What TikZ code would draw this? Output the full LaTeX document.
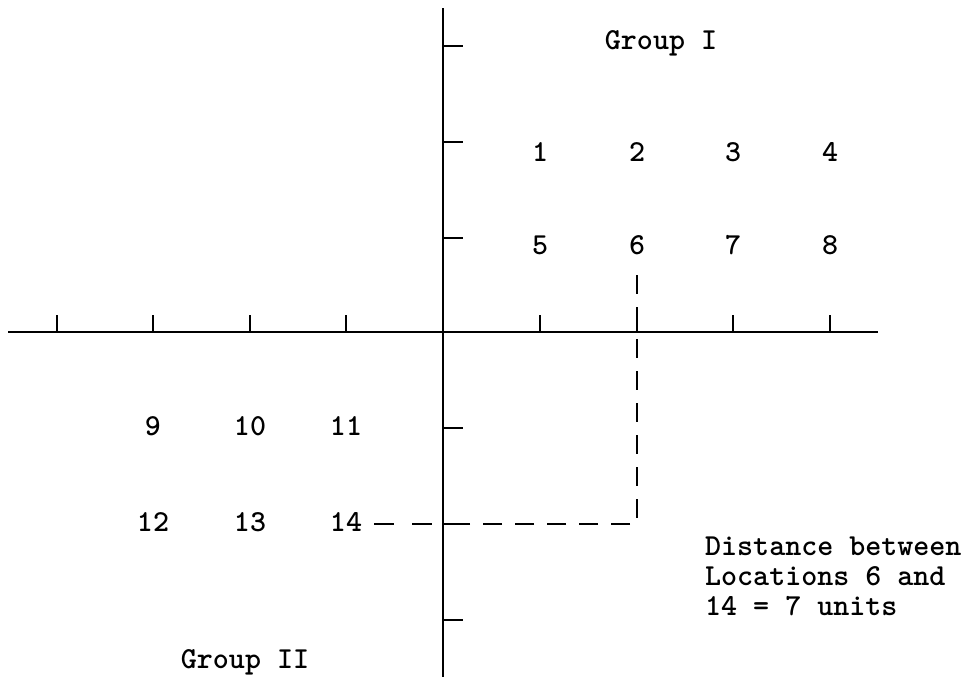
\documentclass[tikz,border=0pt]{standalone}
\begin{document}
\begin{tikzpicture}[x=1pt,y=-1pt,
  lbl/.style={font=\fontsize{30.5}{30}\selectfont\ttfamily\bfseries, inner sep=0pt},
  axisline/.style={line width=2pt},
  tickline/.style={line width=1.6pt},
  dashline/.style={line width=1.8pt, dash pattern=on 19pt off 13pt}]
\useasboundingbox (0,0) rectangle (969,681);
% axes
\coordinate (yt) at (443,8);
\coordinate (yb) at (443,677);
\coordinate (xl) at (8,332);
\coordinate (xr) at (878,332);
\draw[axisline] (yt) -- (yb);
\draw[axisline] (xl) -- (xr);
% x ticks
\foreach \x in {57,153,250,346,540,637,733,830}
  \draw[tickline] (\x,332) -- (\x,315);
% y ticks
\foreach \y in {46,142,238,428,524,620}
  \draw[tickline] (443,\y) -- (463,\y);
% labels
\node[lbl] (g1) at (661,43) {Group I};
\node[lbl] (g2) at (245,662) {Group II};
\node[lbl] (n1) at (540,152) {1};
\node[lbl] (n2) at (637,152) {2};
\node[lbl] (n3) at (733,152) {3};
\node[lbl] (n4) at (830,152) {4};
\node[lbl] (n5) at (540,245) {5};
\node[lbl] (n6) at (637,245) {6};
\node[lbl] (n7) at (733,245) {7};
\node[lbl] (n8) at (830,245) {8};
\node[lbl] (n9) at (153,426) {9};
\node[lbl] (n10) at (250,426) {10};
\node[lbl] (n11) at (346,426) {11};
\node[lbl] (n12) at (153,522) {12};
\node[lbl] (n13) at (250,522) {13};
\node[lbl] (n14) at (346,522) {14};
\node[lbl, anchor=north west, align=left] (note) at (705,537)
  {Distance between\\Locations 6 and\\14 = 7 units};
% dashed path
\coordinate (d0) at (637,275);
\coordinate (dc) at (637,524);
\coordinate (da) at (443,524);
\coordinate (dl) at (374,524);
\draw[dashline] (d0) -- (dc) -- (da);
\draw[dashline, dash pattern=on 20pt off 18pt] (dl) -- (da);
\end{tikzpicture}
\end{document}
